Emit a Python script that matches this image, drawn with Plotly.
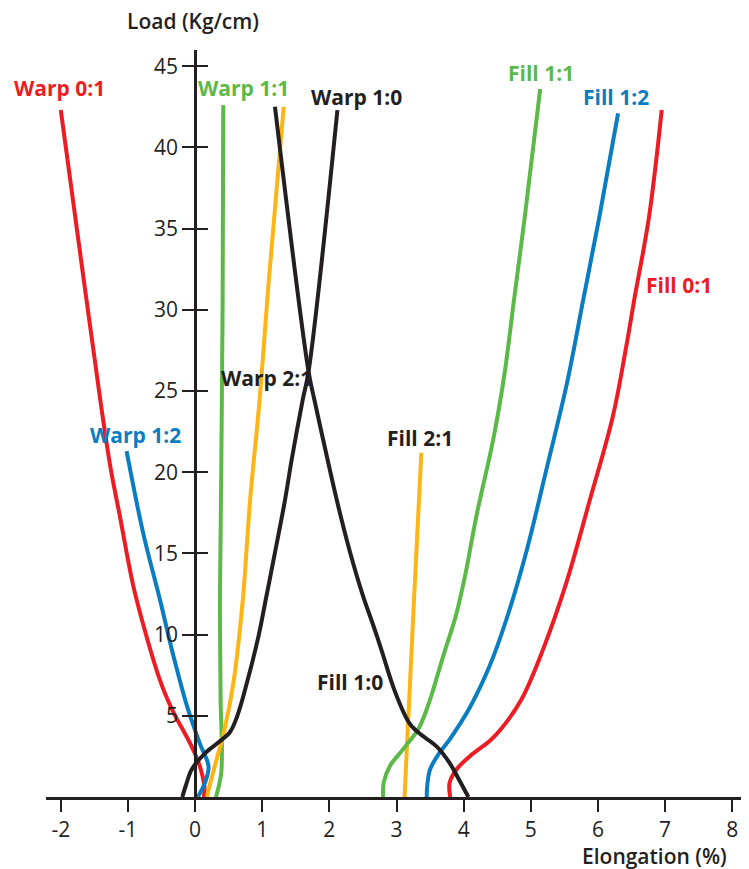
import plotly.graph_objects as go

# ---------------- data ----------------
x_tick_vals = [-2, -1, 0, 1, 2, 3, 4, 5, 6, 7, 8]
x_tick_text = ["-2", "-1", "0", "1", "2", "3", "4", "5", "6", "7", "8"]
y_tick_vals = [5, 10, 15, 20, 25, 30, 35, 40, 45]
y_tick_text = ["5", "10", "15", "20", "25", "30", "35", "40", "45"]

warp01_y = [0, 0.6, 1.9, 3.1, 5.2, 6.3, 7.4, 9.7, 13.0, 17.3, 20.3, 24.4, 31.0, 42.3]
warp01_x = [0.13, 0.14, 0.07, -0.05, -0.32, -0.44, -0.54, -0.71, -0.92, -1.12, -1.26, -1.41, -1.63, -2.0]

warp12_y = [0, 0.9, 1.9, 3.3, 5.6, 8.65, 12.1, 16.2, 21.3]
warp12_x = [0.04, 0.15, 0.20, 0.07, -0.12, -0.32, -0.52, -0.77, -1.02]

warp11_y = [0, 0.6, 1.5, 3.0, 6.0, 12.0, 20.0, 30.0, 42.6]
warp11_x = [0.31, 0.35, 0.39, 0.40, 0.38, 0.37, 0.39, 0.41, 0.42]

warp21_y = [0, 0.25, 2.3, 4.0, 7.0, 12.1, 18.3, 24.4, 31.4, 42.5]
warp21_x = [0.18, 0.19, 0.32, 0.43, 0.57, 0.71, 0.82, 0.96, 1.09, 1.32]

warp10_y = [0, 0.8, 1.7, 2.7, 3.4, 4.0, 5.0, 7.0, 10.0, 12.1, 14.2, 18.3, 20.8, 24.4, 26.2, 42.3]
warp10_x = [-0.19, -0.13, -0.05, 0.15, 0.36, 0.52, 0.63, 0.77, 0.95, 1.05, 1.15, 1.34, 1.44, 1.60, 1.69, 2.12]

fill10_y = [0, 1.0, 2.1, 3.1, 3.95, 4.5, 5.0, 6.8, 9.0, 10.5, 12.4, 15.2, 18.3, 21.4, 24.4, 26.2, 42.5]
fill10_x = [4.07, 3.94, 3.79, 3.60, 3.33, 3.20, 3.13, 2.95, 2.78, 2.66, 2.50, 2.30, 2.11, 1.94, 1.78, 1.69, 1.19]

fill21_y = [0, 12.1, 21.2]
fill21_x = [3.12, 3.26, 3.37]

fill11_y = [0, 0.9, 1.9, 3.1, 4.3, 6.0, 6.8, 9.0, 11.1, 13.6, 17.3, 22.0, 26.1, 30.6, 35.7, 43.6]
fill11_x = [2.80, 2.81, 2.90, 3.13, 3.34, 3.50, 3.56, 3.72, 3.88, 4.02, 4.19, 4.44, 4.61, 4.75, 4.91, 5.14]

fill12_y = [0, 0.8, 1.7, 2.6, 3.6, 5.5, 8.0, 11.1, 15.2, 20.3, 25.5, 30.6, 35.7, 42.1]
fill12_x = [3.45, 3.46, 3.50, 3.62, 3.80, 4.09, 4.38, 4.65, 4.94, 5.24, 5.54, 5.78, 6.02, 6.30]

fill01_y = [0, 0.86, 1.68, 2.5, 3.5, 4.2, 6.0, 9.06, 13.2, 18.3, 23.4, 27.7, 30.6, 35.7, 42.3]
fill01_x = [3.80, 3.79, 3.89, 4.09, 4.40, 4.56, 4.86, 5.18, 5.53, 5.88, 6.22, 6.42, 6.54, 6.76, 6.95]

RED = "#ED1C24"
GREEN = "#5BB947"
BLUE = "#0A7DC2"
ORANGE = "#FDB515"
BLACK = "#231F20"

series = [
    (warp01_x, warp01_y, RED),
    (warp12_x, warp12_y, BLUE),
    (warp11_x, warp11_y, GREEN),
    (warp21_x, warp21_y, ORANGE),
    (fill21_x, fill21_y, ORANGE),
    (fill11_x, fill11_y, GREEN),
    (fill12_x, fill12_y, BLUE),
    (fill01_x, fill01_y, RED),
    (warp10_x, warp10_y, BLACK),
    (fill10_x, fill10_y, BLACK),
]

labels = [
    ("Warp 0:1", -2.02, 43.65, RED),
    ("Warp 1:1", 0.72, 43.65, GREEN),
    ("Warp 1:0", 2.40, 43.1, BLACK),
    ("Fill 1:1", 5.15, 44.6, GREEN),
    ("Fill 1:2", 6.27, 43.1, BLUE),
    ("Fill 0:1", 7.20, 31.5, RED),
    ("Warp 2:1", 1.06, 25.8, BLACK),
    ("Warp 1:2", -0.88, 22.3, BLUE),
    ("Fill 2:1", 3.35, 22.1, BLACK),
    ("Fill 1:0", 2.31, 7.1, BLACK),
]

X_RANGE = [-2.22, 8.22]
Y_RANGE = [0, 46]
FONT = "Open Sans, Noto Sans, sans-serif"

# page offset of the plot div (default body margin)
OFF = 8
W, H = 741, 861
ML, MR, MT, MB = 46 - OFF, 2, 50 - OFF, H + OFF - 797
pw, ph = W - ML - MR, H - MT - MB

def page2paper(px, py):
    fx, fy = px - OFF, py - OFF
    return (fx - ML) / pw, (H - MB - fy) / ph

fig = go.Figure()
for xs, ys, col in series:
    fig.add_trace(go.Scatter(
        x=xs, y=ys, mode="lines",
        line=dict(color=col, width=4, shape="spline", smoothing=1.0),
        hoverinfo="skip", showlegend=False,
    ))
# empty trace to activate the overlaying axis (inner half of the cross ticks)
fig.add_trace(go.Scatter(x=[], y=[], yaxis="y2", showlegend=False))

for text, lx, ly, col in labels:
    fig.add_annotation(x=lx, y=ly, xref="x", yref="y", text=text,
                       xanchor="center", yanchor="middle", showarrow=False,
                       font=dict(family=FONT, size=21, color=col, weight=700))

tx, ty = page2paper(193, 21)
fig.add_annotation(x=tx, y=ty, xref="paper", yref="paper", text="Load (Kg/cm)",
                   xanchor="center", yanchor="middle", showarrow=False,
                   font=dict(family=FONT, size=21, color=BLACK, weight=600))
ex, ey = page2paper(729, 856)
fig.add_annotation(x=ex, y=ey, xref="paper", yref="paper", text="Elongation (%)",
                   xanchor="right", yanchor="middle", showarrow=False,
                   font=dict(family=FONT, size=21, color=BLACK, weight=600))

ypos = (0 - X_RANGE[0]) / (X_RANGE[1] - X_RANGE[0])

fig.update_layout(
    width=W, height=H,
    margin=dict(l=ML, r=MR, t=MT, b=MB),
    paper_bgcolor="white", plot_bgcolor="white",
    showlegend=False,
    xaxis=dict(range=X_RANGE, domain=[0, 1], showgrid=False, zeroline=False,
               showline=True, linecolor=BLACK, linewidth=2.5,
               ticks="outside", ticklen=12, tickwidth=2, tickcolor=BLACK,
               tickvals=x_tick_vals, ticktext=x_tick_text,
               tickfont=dict(family=FONT, size=21, color=BLACK), fixedrange=True,
               automargin=False),
    yaxis=dict(range=Y_RANGE, showgrid=False, zeroline=False,
               anchor="free", position=ypos,
               showline=True, linecolor=BLACK, linewidth=2.5,
               ticks="outside", ticklen=12, tickwidth=2, tickcolor=BLACK,
               tickvals=y_tick_vals, ticktext=y_tick_text,
               tickfont=dict(family=FONT, size=21, color=BLACK), fixedrange=True,
               automargin=False),
    yaxis2=dict(range=Y_RANGE, overlaying="y", anchor="free", position=ypos,
                showgrid=False, zeroline=False, showline=False,
                ticks="inside", ticklen=12, tickwidth=2, tickcolor=BLACK,
                tickvals=y_tick_vals, showticklabels=False, fixedrange=True,
                automargin=False),
)

fig.write_html("out.html")
